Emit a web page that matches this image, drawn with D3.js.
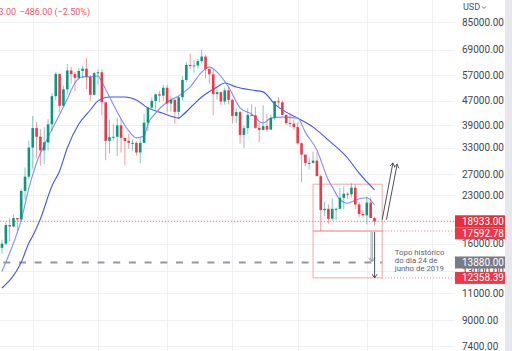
<!DOCTYPE html>
<html>
<head>
<meta charset="utf-8">
<script src="https://cdn.jsdelivr.net/npm/d3@7"></script>
<style>
  body { margin: 0; background: #fff; }
  svg text { font-family: Roboto, "Liberation Sans", sans-serif; }
</style>
</head>
<body>
<div id="chart"></div>
<script>
// weekly candles, Nov 2020 -> Sep 2022
var open = [
  15500,16000,18400,18200,19400,19200,23800,26500,33000,38200,
  35800,32300,34300,39300,48600,57500,45200,51200,59000,57400,
  55800,58800,59800,56200,49100,57800,58200,46400,34700,35700,
  35800,39000,35500,34700,34200,34200,31800,34200,39800,44600,
  46900,49300,48800,51800,46000,47300,43200,48200,54900,61500,
  61000,61300,63300,65500,59700,57300,49400,50100,46700,50800,
  47300,41900,43100,36300,38200,42200,42100,38300,37700,38800,
  37800,41300,46800,46400,42200,39700,39500,38500,34100,31300,
  29400,29400,29900,26600,20600,20800,19300,20800,20800,22600,
  23300,23200,24400,21500,20000,19800,21800,19400];
var high = [
  16500,18800,19400,19900,19400,24200,28400,34800,41900,40100,
  37900,38500,40900,49700,58300,57500,52600,61800,60600,58300,
  60100,61300,64900,57000,58500,59600,59500,46700,40800,39300,
  41300,41000,35500,36600,35100,34600,35400,42600,44800,48100,
  49400,50500,52900,52900,48800,47300,48500,56600,62900,67000,
  63700,64300,69000,66400,59900,59200,51900,50100,51900,52000,
  47600,44400,43500,38900,44500,45800,44800,39800,45400,42500,
  42300,46700,48200,47000,42400,42900,40800,40000,34300,31300,
  30600,32000,31800,26900,21900,21500,22500,21000,24300,24600,
  23600,25200,25000,21900,20600,22800,22700,19600];
var low = [
  14800,15800,16300,18100,17600,19000,22300,26000,28100,30400,
  28800,29200,32300,37400,47100,43000,45000,49200,53300,50400,
  55500,55500,51300,47000,48800,53000,42000,30000,31600,34800,
  31000,31800,28800,32700,32200,31100,29300,34200,37400,43800,
  43900,46400,46900,43000,43400,39600,40800,47000,54000,59500,
  58000,59800,62300,55600,53300,42000,47300,45500,45600,45700,
  39600,39700,34000,32900,36600,41700,38000,34300,37500,37200,
  37600,40500,45200,42200,39200,38500,37700,33700,25400,28700,
  28000,29300,28200,17600,19700,18600,19000,19200,20700,20700,
  22400,22700,20800,19500,19500,18500,19400,18300];
var close = [
  16000,18400,18200,19400,19200,23800,26500,33000,38200,35800,
  32300,34300,39300,48600,57500,45200,51200,59000,57400,55800,
  58800,59800,56200,49100,57800,58200,46400,34700,35700,35800,
  39000,35500,34700,34200,34200,31800,34200,39800,44600,46900,
  49300,48800,51800,46000,47300,43200,48200,54900,61500,61000,
  61300,63300,65500,59700,57300,49400,50100,46700,50800,47300,
  41900,43100,36300,38200,42200,42100,38300,37700,38800,37800,
  41300,46800,46400,42200,39700,39500,38500,34100,31300,29400,
  29400,29900,26600,20600,20800,19300,20800,20800,22600,23300,
  23200,24400,21500,20000,19800,21800,19400,18933];

// moving averages (bar index, price)
var maFastIdx = [0,1,3,5,7,9,12,14,17,19,21,23,25,26,28,31,33,35,37,38,40,43,46,49,52,54,56,59,62,65,68,70,73,77,79,82,85,86,88,90,92,95,97];
var maFast = [13000,13900,16070,19100,24300,29400,35700,40000,47600,53700,56200,56200,56600,54100,48300,40900,37400,35500,36000,39400,42800,46500,48700,52100,58300,60500,58300,52100,44500,42500,39700,41200,41500,41200,37000,32400,25800,24500,22300,21700,22200,22600,21400];
var maSlowIdx = [0,5,7,8,10,13,15,17,20,23,25,28,32,35,38,41,44,46,47,50,52,56,58,61,65,68,71,74,77,81,85,90,93,97];
var maSlow = [11450,13900,16070,16950,19260,24700,27650,32900,39400,43800,46900,48300,48300,47200,44500,43100,41800,41200,42100,45800,48300,52100,53700,52100,50900,50200,45800,43100,41200,38500,34900,30500,27200,24000];

var priceTicks = [85000, 69000, 57000, 47000, 39000, 33000, 27000, 23000, 19000, 16000, 13000, 11000, 9000, 7400];
var timeGridIdx = [8, 25, 43, 60, 77, 95, 112];

var lastPrice = 18933.00, lowPrice = 17592.78, oldTop = 13880.00, target = 12358.39, boxTop = 25044;
var markValues = [lastPrice, lowPrice, oldTop, target];
var noteLines = ["Topo histórico", "do dia 24 de", "junho de 2019"];

var width = 512, height = 351, plotRight = 455;
var green = "#089981", red = "#f23645";

var svg = d3.select("#chart").append("svg")
    .attr("width", width)
    .attr("height", height);

var x = d3.scaleLinear().domain([0, 97]).range([2, 374.5]);
var y = d3.scaleLog().domain([7124, 100330]).range([height, 0]);

// grid
svg.append("g").selectAll("line")
    .data(priceTicks)
  .enter().append("line")
    .attr("x1", 0).attr("x2", plotRight)
    .attr("y1", function(d) { return Math.round(y(d)) + 0.5; })
    .attr("y2", function(d) { return Math.round(y(d)) + 0.5; })
    .attr("stroke", "#eef0f4");

svg.append("g").selectAll("line")
    .data(timeGridIdx)
  .enter().append("line")
    .attr("x1", function(d) { return Math.round(x(d)) + 0.5; })
    .attr("x2", function(d) { return Math.round(x(d)) + 0.5; })
    .attr("y1", 0).attr("y2", height)
    .attr("stroke", "#eef0f4");

// current price line across the chart
svg.append("line")
    .attr("x1", 0).attr("x2", plotRight)
    .attr("y1", y(lastPrice)).attr("y2", y(lastPrice))
    .attr("stroke", red).attr("stroke-opacity", 0.7)
    .attr("stroke-dasharray", "1,2");

[lowPrice, target].forEach(function(v) {
  svg.append("line")
      .attr("x1", x(99)).attr("x2", plotRight)
      .attr("y1", y(v)).attr("y2", y(v))
      .attr("stroke", red).attr("stroke-opacity", 0.7)
      .attr("stroke-dasharray", "1,2");
});

// 2019 top level
svg.append("line")
    .attr("x1", 3.3).attr("x2", x(99))
    .attr("y1", y(oldTop)).attr("y2", y(oldTop))
    .attr("stroke", "#9598a1").attr("stroke-width", 2)
    .attr("stroke-dasharray", "7,8.7");

// projection boxes
svg.append("rect")
    .attr("x", x(81)).attr("width", x(99) - x(81))
    .attr("y", y(boxTop)).attr("height", y(lowPrice) - y(boxTop))
    .attr("fill", "none")
    .attr("stroke", "#f6a3a8");
svg.append("rect")
    .attr("x", x(81)).attr("width", x(99) - x(81))
    .attr("y", y(lowPrice)).attr("height", y(target) - y(lowPrice))
    .attr("fill", "none")
    .attr("stroke", "#f6a3a8");

// moving averages
var line = d3.line().curve(d3.curveMonotoneX);
svg.append("path")
    .attr("d", line(maSlowIdx.map(function(d, k) { return [x(d), y(maSlow[k])]; })))
    .attr("fill", "none").attr("stroke", "#4353f2").attr("stroke-width", 1.1);
svg.append("path")
    .attr("d", line(maFastIdx.map(function(d, k) { return [x(d), y(maFast[k])]; })))
    .attr("fill", "none").attr("stroke", "#7b90fb").attr("stroke-width", 1.1);

// candles
var idx = d3.range(close.length);
function col(i) { return close[i] >= open[i] ? green : red; }

svg.append("g").selectAll("line")
    .data(idx)
  .enter().append("line")
    .attr("x1", function(i) { return x(i); })
    .attr("x2", function(i) { return x(i); })
    .attr("y1", function(i) { return y(high[i]); })
    .attr("y2", function(i) { return y(low[i]); })
    .attr("stroke", col)
    .attr("stroke-opacity", 0.5);

svg.append("g").selectAll("rect")
    .data(idx)
  .enter().append("rect")
    .attr("x", function(i) { return x(i) - 1.3; })
    .attr("width", 2.6)
    .attr("y", function(i) { return y(Math.max(open[i], close[i])); })
    .attr("height", function(i) { return Math.max(1, Math.abs(y(open[i]) - y(close[i]))); })
    .attr("fill", col);

// arrows
function arrow(x1, y1, x2, y2, color) {
  svg.append("line")
      .attr("x1", x1).attr("y1", y1).attr("x2", x2).attr("y2", y2)
      .attr("stroke", color).attr("stroke-width", 0.9);
  var a = Math.atan2(y2 - y1, x2 - x1), s = 4.5;
  var p1 = [x2 - s * Math.cos(a - 0.6), y2 - s * Math.sin(a - 0.6)];
  var p2 = [x2 - s * Math.cos(a + 0.6), y2 - s * Math.sin(a + 0.6)];
  svg.append("path")
      .attr("d", "M" + p1 + "L" + [x2, y2] + "L" + p2)
      .attr("fill", "none").attr("stroke", color).attr("stroke-width", 0.9);
}
arrow(x(96.3) - 0.8, y(lowPrice) + 1, x(96.3) - 0.8, y(oldTop) - 1, "#a0a3ab");
arrow(x(96.3) + 0.8, y(lowPrice) + 1, x(96.3) + 0.8, y(oldTop) - 1, "#a0a3ab");
arrow(x(96.9) + 0.5, y(lowPrice) + 1, x(96.9) + 0.5, y(target), "#3a3d45");
arrow(x(99), y(19150), x(101.8), y(29400), "#3a3d45");
arrow(x(100.1), y(19150), x(102.9), y(29100), "#3a3d45");

// note
svg.append("text")
    .attr("x", x(102.3)).attr("y", 255)
    .attr("font-size", "7.8px").attr("fill", "#5d606b")
    .selectAll("tspan").data(noteLines).enter().append("tspan")
    .attr("x", x(102.3))
    .attr("dy", function(d, k) { return k ? 8 : 0; })
    .text(function(d) { return d; });

// price axis
var axis = d3.axisRight(y)
    .tickValues(priceTicks)
    .tickFormat(d3.format(".2f"))
    .tickSize(0)
    .tickPadding(4);
var gAxis = svg.append("g")
    .attr("transform", "translate(458,0)")
    .call(axis);
gAxis.select(".domain").remove();
gAxis.selectAll("text").attr("font-size", "10px").attr("fill", "#434651")
    .style("font-family", "Roboto, sans-serif");

// price labels
var markColors = ["#e8303d", red, "#787b86", red];
var boxes = markValues.map(function(v, k) { return { v: v, c: markColors[k], cy: y(v) }; });
boxes.sort(function(a, b) { return a.cy - b.cy; });
for (var k = 1; k < boxes.length; k++) {
  if (boxes[k].cy - boxes[k - 1].cy < 12) boxes[k].cy = boxes[k - 1].cy + 12;
}
var gBox = svg.append("g").selectAll("g").data(boxes).enter().append("g");
gBox.append("rect")
    .attr("x", 455).attr("width", 50)
    .attr("y", function(d) { return d.cy - 6; })
    .attr("height", 12)
    .attr("fill", function(d) { return d.c; });
gBox.append("text")
    .attr("x", 462).attr("y", function(d) { return d.cy; })
    .attr("dy", "0.35em")
    .attr("font-size", "10px").attr("fill", "#fff")
    .text(function(d) { return d3.format(".2f")(d.v); });

// currency label
svg.append("text")
    .attr("x", 463).attr("y", 10)
    .attr("font-size", "9px").attr("fill", "#3f5187")
    .text("USD");
svg.append("path")
    .attr("d", "M482,6.5L484,8.5L486,6.5")
    .attr("fill", "none").attr("stroke", "#3f5187").attr("stroke-width", 0.8);

// scroll strip on the right
svg.append("rect")
    .attr("x", 505).attr("y", 0).attr("width", 7).attr("height", height)
    .attr("fill", "#e6e8ee");

// header (starts off the left edge, as in the screenshot)
svg.append("text")
    .attr("x", 16).attr("y", 15)
    .attr("text-anchor", "end")
    .attr("font-size", "9px").attr("fill", "#f7525f")
    .text("C" + d3.format(".2f")(lastPrice));
svg.append("text")
    .attr("x", 19.5).attr("y", 15)
    .attr("font-size", "9px").attr("fill", "#f7525f")
    .text("\u2212486.00 (\u22122.50%)");
</script>
</body>
</html>
